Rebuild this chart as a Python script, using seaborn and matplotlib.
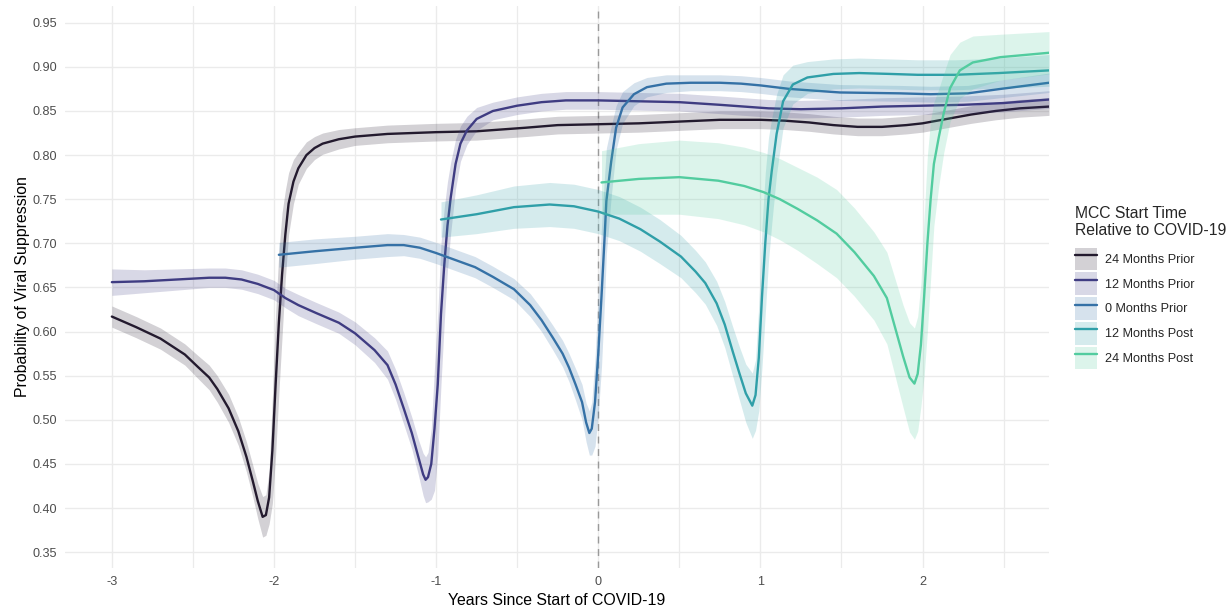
import numpy as np
import pandas as pd
import seaborn as sns
import matplotlib.pyplot as plt
from matplotlib.patches import Patch
from matplotlib.lines import Line2D

# ---------------- data ----------------
labels = ["24 Months Prior", "12 Months Prior", "0 Months Prior", "12 Months Post", "24 Months Post"]
colors = ["#231a2e", "#3f3c82", "#3571a6", "#2f9fa8", "#52cc9f"]

x1 = [-3.00, -2.85, -2.70, -2.55, -2.47, -2.40, -2.35, -2.28, -2.22, -2.17, -2.13,
      -2.10, -2.07, -2.05, -2.03, -2.01, -1.99, -1.97, -1.95, -1.93, -1.91,
      -1.88, -1.85, -1.80, -1.75, -1.70, -1.60, -1.50, -1.30, -1.00, -0.75,
      -0.60, -0.45, -0.25, 0.00, 0.25, 0.50, 0.75, 1.00, 1.15, 1.30,
      1.45, 1.60, 1.75, 1.90, 2.00, 2.15, 2.30, 2.45, 2.60, 2.78]
y1 = [0.617, 0.605, 0.592, 0.574, 0.560, 0.548, 0.535, 0.513, 0.487, 0.458, 0.430,
      0.408, 0.390, 0.392, 0.412, 0.465, 0.540, 0.610, 0.665, 0.710, 0.745,
      0.770, 0.785, 0.800, 0.808, 0.813, 0.818, 0.821, 0.824, 0.826, 0.827,
      0.829, 0.831, 0.834, 0.835, 0.836, 0.838, 0.840, 0.840, 0.839, 0.837,
      0.834, 0.832, 0.832, 0.834, 0.836, 0.841, 0.846, 0.850, 0.853, 0.855]
ci1 = [0.012, 0.012, 0.012, 0.012, 0.013, 0.014, 0.015, 0.016, 0.016, 0.017, 0.018,
       0.020, 0.023, 0.023, 0.030, 0.060, 0.080, 0.080, 0.070, 0.050, 0.035,
       0.025, 0.018, 0.015, 0.013, 0.012, 0.011, 0.010, 0.010, 0.010, 0.010,
       0.010, 0.010, 0.010, 0.010, 0.010, 0.010, 0.010, 0.010, 0.010, 0.010,
       0.010, 0.010, 0.010, 0.010, 0.010, 0.010, 0.010, 0.010, 0.010, 0.010]

x2 = [-3.00, -2.80, -2.60, -2.40, -2.30, -2.20, -2.10, -2.00, -1.93, -1.85,
      -1.74, -1.60, -1.50, -1.38, -1.30, -1.25, -1.20, -1.15, -1.11, -1.08,
      -1.065, -1.05, -1.03, -1.01, -0.99, -0.97, -0.95, -0.93, -0.91, -0.88,
      -0.85, -0.81, -0.75, -0.65, -0.50, -0.35, -0.20, 0.00, 0.25, 0.50,
      0.75, 0.90, 1.05, 1.25, 1.50, 1.75, 2.00, 2.25, 2.50, 2.78]
y2 = [0.656, 0.657, 0.659, 0.661, 0.661, 0.659, 0.654, 0.647, 0.638, 0.630,
      0.621, 0.610, 0.598, 0.579, 0.562, 0.540, 0.513, 0.485, 0.458, 0.438,
      0.432, 0.435, 0.450, 0.490, 0.540, 0.620, 0.675, 0.720, 0.752, 0.790,
      0.813, 0.828, 0.841, 0.850, 0.856, 0.860, 0.862, 0.862, 0.861, 0.860,
      0.857, 0.855, 0.853, 0.852, 0.853, 0.855, 0.856, 0.857, 0.859, 0.863]
ci2 = [0.015, 0.013, 0.012, 0.011, 0.011, 0.011, 0.011, 0.011, 0.011, 0.012,
       0.012, 0.012, 0.013, 0.014, 0.016, 0.017, 0.018, 0.018, 0.020, 0.024,
       0.026, 0.028, 0.040, 0.070, 0.080, 0.080, 0.065, 0.050, 0.040, 0.028,
       0.020, 0.016, 0.013, 0.010, 0.010, 0.010, 0.010, 0.010, 0.010, 0.010,
       0.010, 0.010, 0.010, 0.010, 0.010, 0.010, 0.010, 0.010, 0.010, 0.010]

x3 = [-1.97, -1.75, -1.50, -1.30, -1.20, -1.10, -1.00, -0.88, -0.76, -0.65,
      -0.52, -0.42, -0.35, -0.28, -0.22, -0.18, -0.14, -0.10, -0.075, -0.055,
      -0.04, -0.02, 0.00, 0.02, 0.04, 0.05, 0.08, 0.11, 0.15, 0.22,
      0.30, 0.42, 0.57, 0.75, 0.88, 1.00, 1.18, 1.49, 1.86, 2.05,
      2.28, 2.48, 2.78]
y3 = [0.687, 0.691, 0.695, 0.698, 0.698, 0.695, 0.689, 0.681, 0.673, 0.662,
      0.648, 0.630, 0.613, 0.593, 0.575, 0.559, 0.540, 0.520, 0.497, 0.485,
      0.490, 0.520, 0.575, 0.640, 0.710, 0.748, 0.793, 0.831, 0.854, 0.869,
      0.877, 0.881, 0.882, 0.882, 0.881, 0.879, 0.875, 0.871, 0.870, 0.869,
      0.870, 0.875, 0.882]
ci3 = [0.014, 0.014, 0.013, 0.013, 0.012, 0.012, 0.012, 0.012, 0.012, 0.012,
       0.012, 0.013, 0.013, 0.014, 0.015, 0.016, 0.018, 0.020, 0.022, 0.025,
       0.030, 0.050, 0.070, 0.080, 0.070, 0.060, 0.040, 0.025, 0.018, 0.013,
       0.011, 0.010, 0.009, 0.009, 0.009, 0.009, 0.009, 0.009, 0.009, 0.009,
       0.009, 0.010, 0.011]

x4 = [-0.97, -0.75, -0.52, -0.30, -0.15, 0.00, 0.13, 0.26, 0.38, 0.51,
      0.60, 0.66, 0.73, 0.78, 0.83, 0.87, 0.91, 0.95, 0.97, 0.99,
      1.01, 1.03, 1.05, 1.07, 1.10, 1.14, 1.20, 1.29, 1.45, 1.61,
      1.80, 1.97, 2.20, 2.47, 2.78]
y4 = [0.727, 0.733, 0.741, 0.744, 0.742, 0.736, 0.728, 0.716, 0.702, 0.685,
      0.668, 0.655, 0.632, 0.608, 0.577, 0.553, 0.530, 0.516, 0.528, 0.570,
      0.640, 0.700, 0.750, 0.782, 0.824, 0.861, 0.880, 0.888, 0.892, 0.893,
      0.892, 0.891, 0.891, 0.893, 0.896]
ci4 = [0.020, 0.022, 0.024, 0.025, 0.025, 0.025, 0.025, 0.025, 0.025, 0.024,
       0.024, 0.024, 0.025, 0.026, 0.028, 0.030, 0.033, 0.037, 0.040, 0.060,
       0.080, 0.080, 0.070, 0.060, 0.045, 0.030, 0.022, 0.018, 0.017, 0.017,
       0.017, 0.017, 0.017, 0.017, 0.018]

x5 = [0.02, 0.25, 0.50, 0.74, 0.90, 1.02, 1.12, 1.23, 1.35, 1.47,
      1.58, 1.70, 1.78, 1.83, 1.88, 1.92, 1.95, 1.97, 1.99, 2.01,
      2.03, 2.05, 2.07, 2.10, 2.13, 2.17, 2.23, 2.31, 2.48, 2.78]
y5 = [0.769, 0.773, 0.775, 0.771, 0.765, 0.758, 0.750, 0.739, 0.726, 0.711,
      0.690, 0.663, 0.638, 0.605, 0.572, 0.548, 0.541, 0.552, 0.585, 0.640,
      0.700, 0.750, 0.790, 0.820, 0.847, 0.876, 0.896, 0.905, 0.911, 0.916]
ci5 = [0.036, 0.040, 0.042, 0.043, 0.044, 0.045, 0.046, 0.047, 0.049, 0.050,
       0.050, 0.050, 0.052, 0.055, 0.058, 0.062, 0.063, 0.065, 0.070, 0.090,
       0.100, 0.090, 0.070, 0.055, 0.045, 0.038, 0.032, 0.030, 0.026, 0.024]

xs = [x1, x2, x3, x4, x5]
ys = [y1, y2, y3, y4, y5]
cis = [ci1, ci2, ci3, ci4, ci5]

x_ticks = [-3, -2, -1, 0, 1, 2]
x_minor = [-2.5, -1.5, -0.5, 0.5, 1.5, 2.5]
y_ticks = [0.35, 0.40, 0.45, 0.50, 0.55, 0.60, 0.65, 0.70, 0.75, 0.80, 0.85, 0.90, 0.95]

frames = []
for lab, x, y, c in zip(labels, xs, ys, cis):
    d = pd.DataFrame({"x": x, "y": y, "ci": c})
    d["lo"] = d["y"] - d["ci"]
    d["hi"] = d["y"] + d["ci"]
    d["group"] = lab
    frames.append(d)
df = pd.concat(frames, ignore_index=True)

# ---------------- plot ----------------
sns.set_theme(style="whitegrid")
plt.rcParams['font.family'] = ['Liberation Sans', 'DejaVu Sans']

W, H = 1229, 610
fig = plt.figure(figsize=(W / 100, H / 100), dpi=100)
left, right, top, bottom = 65, 1049, 6, 568
ax = fig.add_axes([left / W, 1 - bottom / H, (right - left) / W, (bottom - top) / H])

ax.axvline(0, color="#9a9a9a", lw=1.0, ls=(0, (5, 4)), zorder=1.5)

for i, (lab, col) in enumerate(zip(labels, colors)):
    d = df[df["group"] == lab]
    ax.fill_between(d["x"], d["lo"], d["hi"], color=col, alpha=0.2, lw=0, zorder=2 + 2 * i)
    sns.lineplot(data=d, x="x", y="y", color=col, lw=1.7, sort=False, estimator=None,
                 ax=ax, zorder=3 + 2 * i, legend=False)

ax.set_xlim(-3.289, 2.78)
ax.set_ylim(0.332, 0.969)
ax.set_xticks(x_ticks)
ax.set_xticklabels([str(t) for t in x_ticks])
ax.set_xticks(x_minor, minor=True)
ax.set_yticks(y_ticks)
ax.set_yticklabels([f"{t:.2f}" for t in y_ticks])

ax.set_facecolor("white")
ax.grid(True, which="major", color="#ebebeb", lw=1.0)
ax.grid(True, which="minor", axis="x", color="#ebebeb", lw=0.9)
ax.grid(False, which="minor", axis="y")
for s in ax.spines.values():
    s.set_visible(False)
ax.tick_params(axis="both", which="both", length=0, labelsize=9.1, labelcolor="#4d4d4d", pad=5.5)

ax.set_xlabel("Years Since Start of COVID-19", fontsize=11.4, color="black", labelpad=4)
ax.set_ylabel("Probability of Viral Suppression", fontsize=11.4, color="black", labelpad=2)

handles = [(Patch(facecolor=c, alpha=0.2, edgecolor="none"), Line2D([], [], color=c, lw=1.7))
           for c in colors]
leg = fig.legend(handles, labels, title="MCC Start Time\nRelative to COVID-19",
                 loc="upper left", bbox_to_anchor=(1075 / W, 1 - 206 / H),
                 frameon=False, fontsize=9.1, title_fontsize=11.3,
                 handlelength=1.75, handleheight=2.39, labelspacing=0.16,
                 handletextpad=0.65, borderpad=0, borderaxespad=0, alignment="left")
leg._legend_box.sep = 6.6

fig.savefig("out.png", dpi=100, facecolor="white")
